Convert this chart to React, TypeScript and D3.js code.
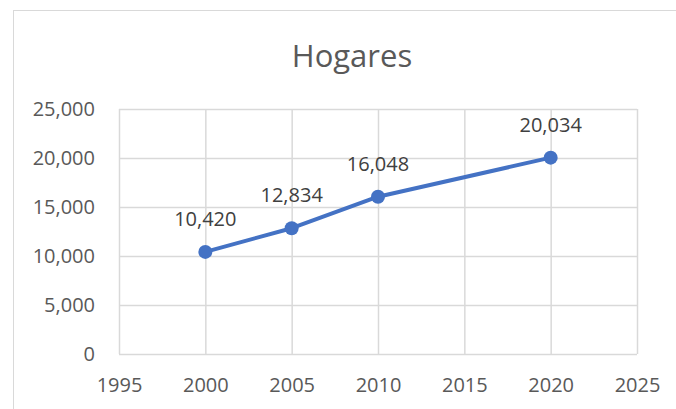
import React, { useEffect, useRef } from "react";
import { select, scaleLinear, axisBottom, axisLeft, line, format } from "d3";

const years = [2000, 2005, 2010, 2020];
const hogares = [10420, 12834, 16048, 20034];
const xTicks = [1995, 2000, 2005, 2010, 2015, 2020, 2025];
const yTicks = [0, 5000, 10000, 15000, 20000, 25000];
const title = "Hogares";

export default function App() {
  const ref = useRef<SVGSVGElement>(null);

  useEffect(() => {
    const width = 676;
    const height = 409;
    const marginTop = 109;
    const marginRight = 39;
    const marginBottom = 55;
    const marginLeft = 119;
    const font = "'Open Sans', 'Noto Sans', sans-serif";

    const svg = select(ref.current);
    svg.selectAll("*").remove();

    // chart frame
    svg.append("rect")
      .attr("x", 13.5)
      .attr("y", 10.5)
      .attr("width", width + 10)
      .attr("height", height + 10)
      .attr("fill", "#fff")
      .attr("stroke", "#d9d9d9");

    const x = scaleLinear().domain([1995, 2025]).range([marginLeft, width - marginRight]);
    const y = scaleLinear().domain([0, 25000]).range([height - marginBottom, marginTop]);

    // gridlines
    svg.append("g")
      .attr("transform", `translate(0,${height - marginBottom})`)
      .call(axisBottom(x).tickValues(xTicks).tickSize(-(height - marginTop - marginBottom)).tickFormat(() => ""))
      .call((g) => g.select(".domain").remove())
      .call((g) => g.selectAll("line").attr("stroke", "#d9d9d9").attr("stroke-width", 1.5));

    svg.append("g")
      .attr("transform", `translate(${marginLeft},0)`)
      .call(axisLeft(y).tickValues(yTicks).tickSize(-(width - marginLeft - marginRight)).tickFormat(() => ""))
      .call((g) => g.select(".domain").remove())
      .call((g) => g.selectAll("line").attr("stroke", "#d9d9d9").attr("stroke-width", 1.5));

    // tick labels
    svg.append("g")
      .attr("transform", `translate(0,${height - marginBottom})`)
      .call(axisBottom(x).tickValues(xTicks).tickSize(0).tickPadding(24).tickFormat((d: any) => String(d)))
      .call((g) => g.select(".domain").remove())
      .call((g) => g.selectAll("text").attr("fill", "#595959").attr("font-size", 20).attr("font-family", font));

    svg.append("g")
      .attr("transform", `translate(${marginLeft},0)`)
      .call(axisLeft(y).tickValues(yTicks).tickSize(0).tickPadding(24).tickFormat(format(",")))
      .call((g) => g.select(".domain").remove())
      .call((g) => g.selectAll("text").attr("fill", "#595959").attr("font-size", 20).attr("font-family", font));

    // title
    svg.append("text")
      .attr("x", 352)
      .attr("y", 67)
      .attr("text-anchor", "middle")
      .attr("fill", "#595959")
      .attr("font-size", 31)
      .attr("font-family", font)
      .text(title);

    const data = years.map((yr, i) => ({ yr, v: hogares[i] }));

    svg.append("path")
      .datum(data)
      .attr("fill", "none")
      .attr("stroke", "#4472C4")
      .attr("stroke-width", 4)
      .attr("stroke-linejoin", "round")
      .attr("d", line<any>().x((d) => x(d.yr)).y((d) => y(d.v)));

    svg.append("g")
      .selectAll("circle")
      .data(data)
      .join("circle")
      .attr("cx", (d) => x(d.yr))
      .attr("cy", (d) => y(d.v))
      .attr("r", 7)
      .attr("fill", "#4472C4");

    svg.append("g")
      .selectAll("text")
      .data(data)
      .join("text")
      .attr("x", (d) => x(d.yr))
      .attr("y", (d) => y(d.v) - 26)
      .attr("text-anchor", "middle")
      .attr("fill", "#404040")
      .attr("font-size", 20)
      .attr("font-family", font)
      .text((d) => format(",")(d.v));
  }, []);

  return (
    <svg
      ref={ref}
      width={676}
      height={409}
      style={{ position: "fixed", left: 0, top: 0, display: "block" }}
    />
  );
}
